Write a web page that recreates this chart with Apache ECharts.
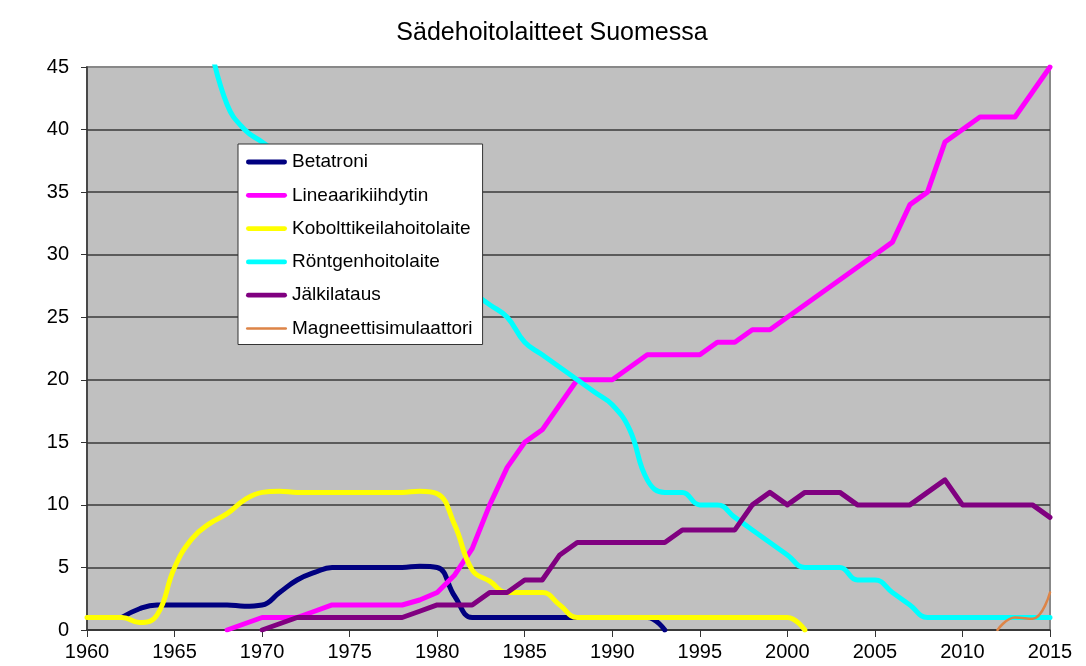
<!DOCTYPE html>
<html>
<head>
<meta charset="utf-8">
<title>Sädehoitolaitteet Suomessa</title>
<script src="https://cdn.jsdelivr.net/npm/echarts@6/dist/echarts.min.js"></script>
<style>
    html, body { margin: 0; padding: 0; background: #fff; }
    #chart { width: 1086px; height: 666px; }
</style>
</head>
<body>
<div id="chart"></div>
<script>
    // arvot luettu kuvasta, jokainen sarja alkaa omasta vuodestaan
    const yTicks = [0, 5, 10, 15, 20, 25, 30, 35, 40, 45];

    const betatroniStart = 1962;
    const betatroni = [1, 1.7, 2, 2, 2, 2, 2, 1.9, 2, 3, 4, 4.6, 5, 5, 5, 5, 5, 5.1, 5, 2.7,
        1, 1, 1, 1, 1, 1, 1, 1, 1, 1, 1, 0];

    const lineaariStart = 1968;
    const lineaari = [0, 0.5, 1, 1, 1, 1.5, 2, 2, 2, 2, 2, 2.4, 3, 4.4, 6.5, 10, 13, 15, 16, 18,
        20, 20, 20, 21, 22, 22, 22, 22, 23, 23, 24, 24, 25, 26, 27, 28, 29, 30, 31, 34,
        35, 39, 40, 41, 41, 41, 43, 45];

    const kobolttiStart = 1960;
    const koboltti = [1, 1, 1, 0.6, 1.2, 5, 7.3, 8.5, 9.3, 10.4, 11, 11.1, 11, 11, 11, 11, 11, 11, 11, 11.1,
        10.9, 8.4, 4.8, 3.9, 3, 3, 3, 2, 1, 1, 1, 1, 1, 1, 1, 1, 1, 1, 1, 1,
        1, 0];

    // 1971-1981 jää selitelaatikon alle, ei luettavissa
    const rontgenStart = 1967;
    const rontgen = [47, 42, 40, 39, null, null, null, null, null, null, null, null, null, null, null, 27,
        26, 25, 23, 22, 21, 20, 19, 18, 16, 12, 11, 11, 10, 10, 9, 8, 7, 6, 5, 5,
        5, 4, 4, 3, 2, 1, 1, 1, 1, 1, 1, 1, 1];

    const jalkilatausStart = 1970;
    const jalkilataus = [0, 0.5, 1, 1, 1, 1, 1, 1, 1, 1.5, 2, 2, 2, 3, 3, 4, 4, 6, 7, 7,
        7, 7, 7, 7, 8, 8, 8, 8, 10, 11, 10, 11, 11, 11, 10, 10, 10, 10, 11, 12,
        10, 10, 10, 10, 10, 9];

    const magneettiStart = 2012;
    const magneetti = [0, 1, 0.9, 3];

    const toPairs = (start, values) => values.map((v, i) => [start + i, v]);

    const font = "'Liberation Sans', Arial, sans-serif";

    // selitteen viivanäyte: paksu tai ohut vaakaviiva
    const thickIcon = 'path://M2,0 L40,0 A2.5,2.5 0 0 1 40,5 L2,5 A2.5,2.5 0 0 1 2,0 Z';
    const thinIcon = 'path://M1,0 L41,0 A1.25,1.25 0 0 1 41,2.5 L1,2.5 A1.25,1.25 0 0 1 1,0 Z';

    const makeSeries = (name, color, start, values, smooth, width) => ({
        name: name,
        type: 'line',
        data: toPairs(start, values),
        smooth: smooth,
        connectNulls: true,
        symbol: 'none',
        lineStyle: { color: color, width: width, cap: 'round', join: 'round' },
        itemStyle: { color: color },
        emphasis: { disabled: true },
    });

    const myChart = echarts.init(document.getElementById('chart'));

    const option = {
        animation: false,
        title: {
            text: 'Sädehoitolaitteet Suomessa',
            left: 552,
            top: 21,
            padding: 0,
            textAlign: 'center',
            textStyle: { fontFamily: font, fontSize: 25, fontWeight: 'normal', color: '#000' },
        },
        legend: {
            orient: 'vertical',
            left: 238,
            top: 144,
            padding: [8.5, 10, 6.5, 8],
            backgroundColor: '#fff',
            borderColor: '#333',
            borderWidth: 1,
            itemWidth: 41,
            itemHeight: 5,
            itemGap: 14.3,
            data: [
                { name: 'Betatroni', icon: thickIcon },
                { name: 'Lineaarikiihdytin', icon: thickIcon },
                { name: 'Kobolttikeilahoitolaite', icon: thickIcon },
                { name: 'Röntgenhoitolaite', icon: thickIcon },
                { name: 'Jälkilataus', icon: thickIcon },
                { name: 'Magneettisimulaattori', icon: thinIcon },
            ],
            textStyle: { fontFamily: font, fontSize: 19, color: '#000' },
        },
        grid: {
            left: 87,
            right: 36,
            top: 67,
            bottom: 36,
            show: true,
            backgroundColor: '#c0c0c0',
            borderColor: '#888',
            borderWidth: 2,
        },
        xAxis: {
            type: 'value',
            min: 1960,
            max: 2015,
            interval: 5,
            axisLine: { show: true, lineStyle: { color: '#333', width: 1.5 } },
            axisTick: { show: true, length: 7, lineStyle: { color: '#333' } },
            splitLine: { show: false },
            axisLabel: {
                fontFamily: font,
                fontSize: 20,
                color: '#000',
                margin: 12,
                formatter: (v) => String(v),
            },
        },
        yAxis: {
            type: 'value',
            min: 0,
            max: 45,
            interval: 5,
            axisLine: { show: true, lineStyle: { color: '#333', width: 1.5 } },
            axisTick: { show: true, length: 6, lineStyle: { color: '#333' } },
            splitLine: {
                show: true,
                lineStyle: {
                    color: yTicks.map((t) => (t === 45 ? '#888' : '#3a3a3a')),
                    width: 1.5,
                },
            },
            axisLabel: { fontFamily: font, fontSize: 20, color: '#000', margin: 18 },
        },
        series: [
            makeSeries('Betatroni', '#000080', betatroniStart, betatroni, 0.45, 5),
            makeSeries('Lineaarikiihdytin', '#ff00ff', lineaariStart, lineaari, false, 5),
            makeSeries('Kobolttikeilahoitolaite', '#ffff00', kobolttiStart, koboltti, 0.45, 5),
            makeSeries('Röntgenhoitolaite', '#00ffff', rontgenStart, rontgen, 0.45, 5),
            makeSeries('Jälkilataus', '#800080', jalkilatausStart, jalkilataus, false, 5),
            makeSeries('Magneettisimulaattori', '#dd8447', magneettiStart, magneetti, 0.45, 2.5),
        ],
    };

    myChart.setOption(option);
</script>
</body>
</html>
